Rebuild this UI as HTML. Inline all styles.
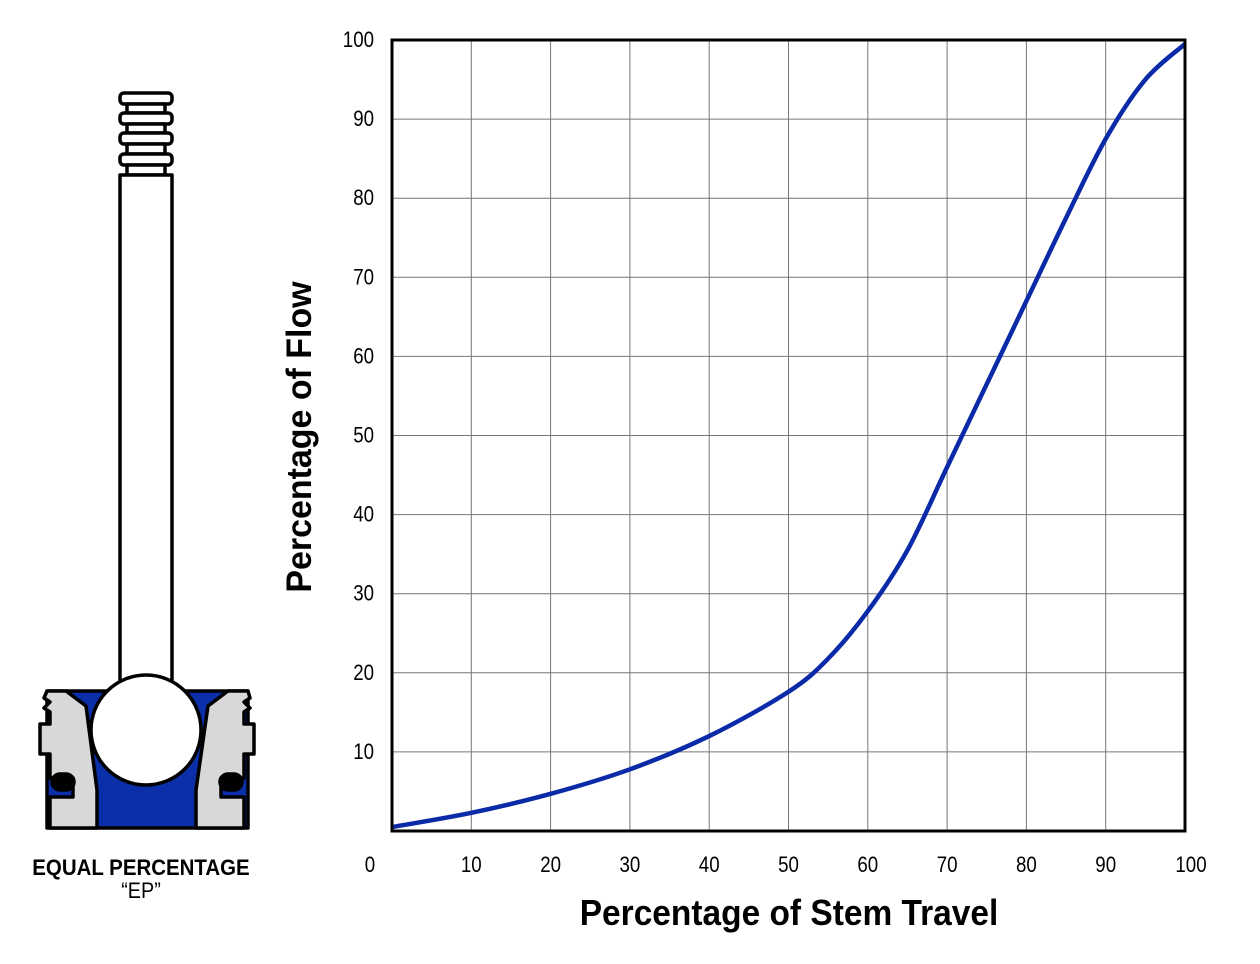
<!DOCTYPE html>
<html><head><meta charset="utf-8"><style>
body{margin:0;background:#fff;width:1260px;height:959px;overflow:hidden;font-family:"Liberation Sans",sans-serif}
svg text{font-family:"Liberation Sans",sans-serif}
</style></head><body>
<svg id="chart" width="1260" height="959" viewBox="0 0 1260 959">
<g stroke="#000" stroke-width="3.5" stroke-linejoin="round">
  <rect x="120" y="93" width="52" height="11" rx="4" fill="#fff"/>
  <rect x="127" y="104" width="38" height="9" fill="#fff"/>
  <rect x="120" y="113" width="52" height="11" rx="4" fill="#fff"/>
  <rect x="127" y="124" width="38" height="9" fill="#fff"/>
  <rect x="120" y="133" width="52" height="11" rx="4" fill="#fff"/>
  <rect x="127" y="144" width="38" height="10" fill="#fff"/>
  <rect x="120" y="154" width="52" height="11" rx="4" fill="#fff"/>
  <rect x="127" y="165" width="38" height="10" fill="#fff"/>
  <rect x="120" y="175" width="52" height="510" fill="#fff"/>
  <polygon points="47,691 248,691 248,828 47,828" fill="#0a2fa8"/>
  <polygon points="47,691 66,691 86,706 97,790 97,828 50,828 50,797 73,797 73,778 50,778 50,754 40,754 40,724 50,724 50,712 44,708 50,702 44,698" fill="#d8d8d8"/>
  <polygon points="248,691 228,691 208,706 196,790 196,828 244,828 244,797 221,797 221,778 244,778 244,754 254,754 254,724 244,724 244,712 250,708 244,702 250,698" fill="#d8d8d8"/>
  <rect x="52" y="774" width="22" height="16" rx="8" fill="#000"/>
  <rect x="220" y="774" width="22" height="16" rx="8" fill="#000"/>
  <circle cx="146" cy="730" r="55" fill="#fff"/>
</g>
<text x="0" y="0" transform="translate(141 875) scale(0.93 1)" text-anchor="middle" font-size="22" font-weight="bold">EQUAL PERCENTAGE</text>
<text x="0" y="0" transform="translate(141 898) scale(0.9 1)" text-anchor="middle" font-size="22">“EP”</text>
<g id="grid"></g>
<g id="ticks"></g>
<path id="curve" fill="none" stroke="#0a2aa8" stroke-width="4.5"/>
<rect x="392" y="40" width="793" height="791" fill="none" stroke="#000" stroke-width="3"/>
<text x="0" y="0" transform="translate(311 437) rotate(-90) scale(0.97 1)" text-anchor="middle" font-size="35" font-weight="bold">Percentage of Flow</text>
<text x="0" y="0" transform="translate(789 925) scale(0.93 1)" text-anchor="middle" font-size="36" font-weight="bold">Percentage of Stem Travel</text>
</svg>
<script>
const xs=[0,10,20,30,40,50,55,60,65,70,75,80,85,90,95,100];
const ys=[0.5,2.3,4.7,7.8,12,17.6,21.8,27.8,35.5,46,56.5,67,77.5,87.5,95,99.5];
const xTicks=[10,20,30,40,50,60,70,80,90,100];
const yTicks=[10,20,30,40,50,60,70,80,90,100];
const X=v=>392+v*7.93, Y=v=>831-v*7.91;
const ns="http://www.w3.org/2000/svg";
const grid=document.getElementById('grid'),tk=document.getElementById('ticks');
function el(t,a,p){const e=document.createElementNS(ns,t);for(const k in a)e.setAttribute(k,a[k]);p.appendChild(e);return e;}
xTicks.forEach(v=>{
  const l=el('line',{x1:X(v),x2:X(v),y1:40,y2:831,stroke:'#777','stroke-width':1},grid);
  
  
  const t=el('text',{x:0,y:0,transform:`translate(${X(v)+(v==100?6:0)} 872) scale(0.85 1)`,'text-anchor':'middle','font-size':22},tk);
  t.textContent=v;
  
  
});
yTicks.forEach(v=>{
  const l=el('line',{x1:392,x2:1185,y1:Y(v),y2:Y(v),stroke:'#777','stroke-width':1},grid);
  
  
  const t=el('text',{x:0,y:0,transform:`translate(374 ${Y(v)+7}) scale(0.85 1)`,'text-anchor':'end','font-size':22},tk);
  t.textContent=v;
  
  
});
const z=el('text',{x:0,y:0,transform:'translate(370 872) scale(0.85 1)','text-anchor':'middle','font-size':22},tk);
z.textContent='0';


const P=xs.map((v,i)=>[X(v),Y(ys[i])]);
let d='M'+P[0][0]+','+P[0][1];
for(let i=0;i<P.length-1;i++){
  const p0=P[i-1]||P[i],p1=P[i],p2=P[i+1],p3=P[i+2]||p2;
  const c1=[p1[0]+(p2[0]-p0[0])/6,p1[1]+(p2[1]-p0[1])/6],c2=[p2[0]-(p3[0]-p1[0])/6,p2[1]-(p3[1]-p1[1])/6];
  d+=` C${c1[0]},${c1[1]} ${c2[0]},${c2[1]} ${p2[0]},${p2[1]}`;
}
document.getElementById('curve').setAttribute('d',d);
</script>
</body></html>
